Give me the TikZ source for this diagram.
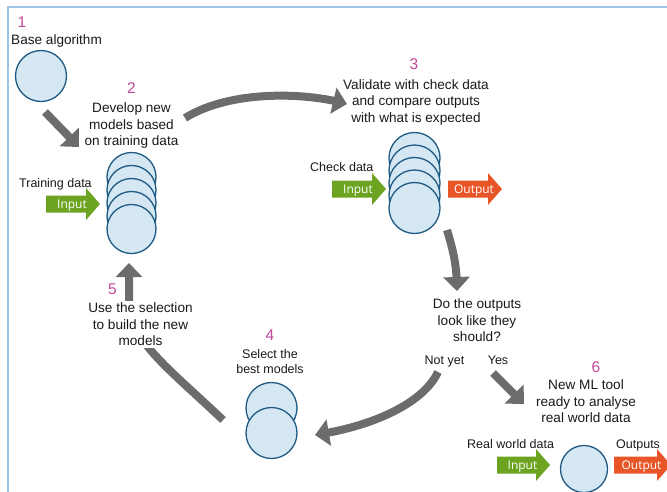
\documentclass[tikz,border=0pt]{standalone}
\usepackage{fontspec}
\setmainfont{Liberation Sans}
\newfontfamily\arrowfont{Open Sans}
\usetikzlibrary{arrows.meta,bending}
\definecolor{bordercol}{RGB}{157,195,230}
\definecolor{numcol}{RGB}{192,72,155}
\definecolor{txtcol}{RGB}{25,25,25}
\definecolor{greyarrow}{RGB}{108,108,108}
\definecolor{discfill}{RGB}{213,231,243}
\definecolor{discdraw}{RGB}{30,90,130}
\definecolor{ingreen}{RGB}{108,163,32}
\definecolor{outorange}{RGB}{232,86,40}
\newcommand\blockarrow[6]{%
  \fill[#5] (#2,#4-8.5) -- (#3-14,#4-8.5) -- (#3-14,#4-16) -- (#3,#4) -- (#3-14,#4+16) -- (#3-14,#4+8.5) -- (#2,#4+8.5) -- cycle;
  \node[arrowlabel] (#1) at ({(#2+#3)/2-1},{#4+4.3}) {#6};
}
\begin{document}
\begin{tikzpicture}[x=1pt,y=-1pt,
  disc/.style={circle,draw=discdraw,fill=discfill,line width=1.3pt,minimum size=50pt,inner sep=0pt},
  num/.style={text=numcol,font=\fontsize{15.5}{18}\selectfont,anchor=base,inner sep=0pt},
  maintext/.style={text=txtcol,font=\fontsize{13.6}{16.5}\selectfont,align=center,inner sep=0pt},
  smalltext/.style={text=txtcol,font=\fontsize{12.5}{15}\selectfont,inner sep=0pt},
  flow/.style={draw=greyarrow,line width=8pt,-{Triangle[length=14pt,width=26pt]}},
  arrowlabel/.style={text=white,font=\arrowfont\fontsize{12}{14}\selectfont,anchor=base,inner sep=0pt},
]
\useasboundingbox (0,0) rectangle (667,491);
\clip (0,0) rectangle (667,491);
\draw[bordercol,line width=2pt] (8,500) -- (8,7) -- (680,7);

% step 1
\node[num] (n1) at (22,27) {1};
\node[maintext,anchor=base west] (t1) at (11,44) {Base algorithm};
\node[disc,minimum size=51pt] (c1) at (41,76) {};

% step 2
\node[num] (n2) at (131.5,93) {2};
\node[maintext] (t2) at (131.5,125.7) {Develop new\\models based\\on training data};
\foreach \i/\y in {a/177,b/190,c/203,d/216,e/229}
  \node[disc,minimum size=49pt] (s2\i) at (131.5,\y) {};
\node[smalltext,anchor=base west] (l2) at (19,187.3) {Training data};
\blockarrow{in2}{46}{100}{204}{ingreen}{Input}

% step 3
\node[num] (n3) at (414,69) {3};
\node[maintext] (t3) at (416,102) {Validate with check data\\and compare outputs\\with what is expected};
\foreach \i/\y in {a/158,b/170.5,c/183,d/195.5,e/208}
  \node[disc,minimum size=51pt] (s3\i) at (414.5,\y) {};
\node[smalltext,anchor=base west] (l3) at (310,171.3) {Check data};
\blockarrow{in3}{332}{386}{189}{ingreen}{Input}
\blockarrow{out3}{448}{502}{189}{outorange}{Output}

% decision
\node[maintext] (dq) at (477,320.3) {Do the outputs\\look like they\\should?};
\node[smalltext,anchor=base] (ny) at (444.5,364) {Not yet};
\node[smalltext,anchor=base] (ys) at (498,364) {Yes};

% step 4
\node[num] (n4) at (270,340) {4};
\node[smalltext,align=center] (t4) at (270,361.4) {Select the\\best models};
\node[disc,minimum size=51pt] (s4a) at (271.5,408) {};
\node[disc,minimum size=51pt] (s4b) at (271.5,433) {};

% step 6
\node[num] (n6) at (596,372) {6};
\node[maintext] (t6) at (586,401.4) {New ML tool\\ready to analyse\\real world data};
\node[smalltext,anchor=base west] (l6) at (467,448.3) {Real world data};
\blockarrow{in6}{497}{550}{465}{ingreen}{Input}
\node[disc,minimum size=47pt] (c6) at (584,469) {};
\node[smalltext,anchor=base west] (l6o) at (616,448.3) {Outputs};
\blockarrow{out6}{614}{671}{465}{outorange}{Output}

% arrow end points
\coordinate (a1s) at (45,112);   \coordinate (a1e) at (79,147);
\coordinate (a2s) at (185,118);  \coordinate (a2e) at (347,104);
\coordinate (a3s) at (447,230);  \coordinate (a3e) at (457,291);
\coordinate (a4s) at (438,372);  \coordinate (a4e) at (315,435);
\coordinate (a5s) at (223,420);  \coordinate (a5m) at (129,300); \coordinate (a5e) at (129,263);
\coordinate (a6s) at (493,373);  \coordinate (a6e) at (524,404);

\draw[flow] (a1s) -- (a1e);
\draw[flow] (a2s) .. controls (230,90) and (305,92) .. (a2e);
\draw[flow] (a3s) .. controls (453,250) and (457,265) .. (a3e);
\draw[flow] (a4s) .. controls (425,400) and (380,425) .. (a4e);
\draw[flow] (a5s) .. controls (165,365) and (129,340) .. (a5m) -- (a5e);
\draw[flow] (a6s) -- (a6e);

% step 5 (label over the return arrow)
\node[num] (n5) at (112.5,294) {5};
\node[maintext,fill=white,inner sep=2pt] (t5) at (140.5,324.2) {Use the selection\\to build the new\\models};
\end{tikzpicture}
\end{document}
